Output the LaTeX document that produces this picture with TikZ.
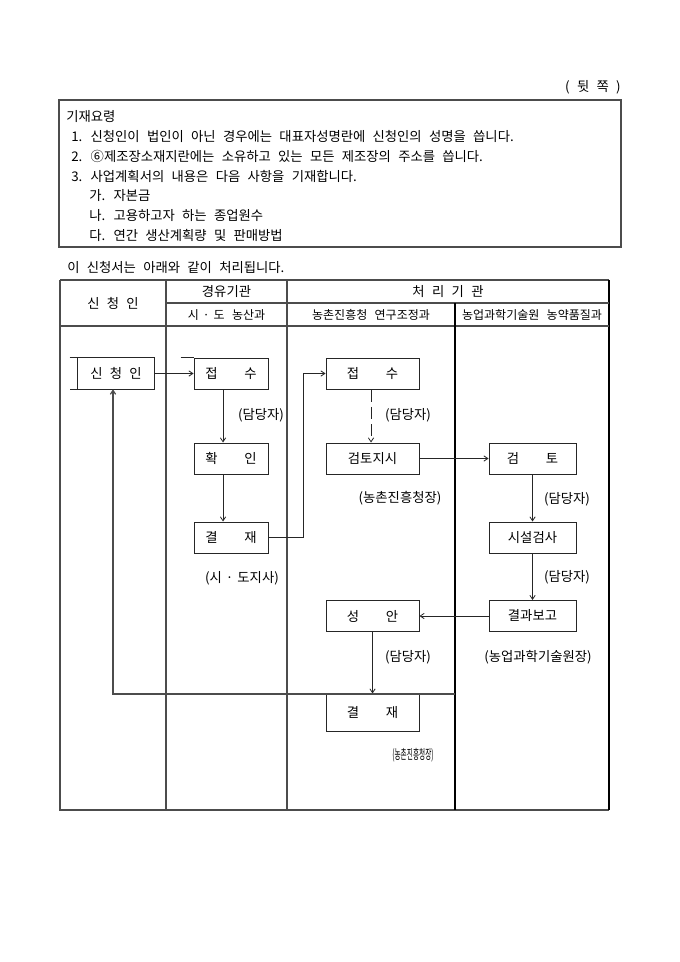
\documentclass[tikz,border=0pt]{standalone}
\usepackage{fontspec}
\usepackage{graphicx}
\setmainfont{Noto Sans CJK KR}
\usetikzlibrary{arrows.meta}
\newcommand\kfs{\fontsize{10pt}{12pt}\selectfont\spaceskip=5.5pt plus 0pt minus 0pt\relax}
\newcommand\kfsm{\fontsize{9pt}{11pt}\selectfont\spaceskip=5.5pt plus 0pt minus 0pt\relax}
\begin{document}
\begin{tikzpicture}[x=0.75pt,y=-0.75pt,
  every node/.style={font=\kfs, inner sep=0pt},
  hs/.style={font=\kfsm},
  tab/.style={draw=black!70, line width=0.9pt},
  tabk/.style={draw=black, line width=0.9pt},
  bx/.style={draw=black!85, line width=0.75pt, minimum height=23.25pt},
  bxA/.style={bx, minimum width=55.5pt},
  bxB/.style={bx, minimum width=69.75pt},
  bxC/.style={bx, minimum width=65.25pt},
  arr/.style={draw=black!85, line width=0.6pt, -{Straight Barb[length=3pt,width=4pt]}},
  cn/.style={draw=black!85, line width=0.6pt}
]
\useasboundingbox (0,0) rectangle (680,962);
\fill[white] (0,0) rectangle (680,962);

% top note
\node[anchor=east] (page) at (621,87) {( 뒷 쪽 )};
\draw[tab] (59,100) rectangle (621,247);
\node[anchor=west] (t0) at (66,117) {기재요령};
\node[anchor=west] (t1) at (71,136.7) {1. 신청인이 법인이 아닌 경우에는 대표자성명란에 신청인의 성명을 씁니다.};
\node[anchor=west] (t2) at (71,156.3) {2. ⑥제조장소재지란에는 소유하고 있는 모든 제조장의 주소를 씁니다.};
\node[anchor=west] (t3) at (71,176) {3. 사업계획서의 내용은 다음 사항을 기재합니다.};
\node[anchor=west] (t4) at (89,195.7) {가. 자본금};
\node[anchor=west] (t5) at (89,215.3) {나. 고용하고자 하는 종업원수};
\node[anchor=west] (t6) at (89,235) {다. 연간 생산계획량 및 판매방법};

\node[anchor=west] (intro) at (67,267) {이 신청서는 아래와 같이 처리됩니다.};

% table
\draw[tab] (60,280) -- (609,280);
\draw[tab] (60,280) -- (60,810) -- (609,810);
\draw[tabk] (609,280) -- (609,810);
\draw[tab] (166,303) -- (609,303);
\draw[tab] (60,326) -- (609,326);
\draw[tab] (166,280) -- (166,810);
\draw[tab] (287,280) -- (287,810);
\draw[tabk] (455,303) -- (455,810);

\node (h1) at (113,303) {신 청 인};
\node (h2) at (226.5,292) {경유기관};
\node[hs] (h3) at (226.5,315) {시\hspace{3pt}·\hspace{3pt}도 농산과};
\node (h4) at (448,292) {처 리 기 관};
\node[hs] (h5) at (371,315) {농촌진흥청 연구조정과};
\node[hs] (h6) at (532,315) {농업과학기술원 농약품질과};

% flow boxes
\node[minimum width=57pt, minimum height=23.25pt] (sin) at (116,373.5) {신 청 인};
\draw[cn] ([xshift=-6pt]sin.north west) -- (sin.north east) -- (sin.south east) -- ([xshift=-6pt]sin.south west);
\draw[cn] (sin.north west) -- (sin.south west);

\node[bxA] (js1) at (231,373.5) {접\hspace{20pt}수};
\draw[cn] ([xshift=-9.75pt]js1.north west) -- (js1.north west);
\node[bxA] (hw) at (231,458.5) {확\hspace{20pt}인};
\node[bxA] (gj1) at (231,537.5) {결\hspace{20pt}재};

\node[bxB] (js2) at (372.5,373.5) {접\hspace{20pt}수};
\node[bxB] (gtjs) at (372.5,458.5) {검토지시};
\node[bxB] (sa) at (372.5,616) {성\hspace{20pt}안};
\node[bxB, minimum height=27.75pt] (gj2) at (372.5,712.5) {결\hspace{20pt}재};

\node[bxC] (gt) at (532.5,458.5) {검\hspace{20pt}토};
\node[bxC] (ss) at (532.5,537.5) {시설검사};
\node[bxC] (gb) at (532.5,616) {결과보고};

% labels
\node (l1) at (261,415) {(담당자)};
\node (l2) at (242,578) {(시\hspace{3pt}·\hspace{3pt}도지사)};
\node (l3) at (408,415) {(담당자)};
\node (l4) at (400,498) {(농촌진흥청장)};
\node (l5) at (567,499) {(담당자)};
\node (l6) at (567,577) {(담당자)};
\node (l7) at (538,657) {(농업과학기술원장)};
\node (l8) at (408,657) {(담당자)};
\node (l9) at (413,755) {\scalebox{0.5}[1]{(농촌진흥청장)}};

% connectors
\coordinate (xa) at (223,0);
\coordinate (b1) at (303,0);
\coordinate (xd) at (371,0);
\coordinate (fbr) at (455,694);
\coordinate (fbl) at (113,694);

\draw[arr] (sin.east) -- (js1.west);
\draw[arr] (js1.south -| xa) -- (hw.north -| xa);
\draw[arr] (hw.south -| xa) -- (gj1.north -| xa);
\draw[arr] (gj1.east) -- (gj1.east -| b1) -- (js2.west -| b1) -- (js2.west);
\draw[arr, dash pattern=on 9pt off 4pt] (js2.south -| xd) -- (gtjs.north -| xd);
\draw[arr] (gtjs.east) -- (gt.west);
\draw[arr] (gt.south) -- (ss.north);
\draw[arr] (ss.south) -- (gb.north);
\draw[arr] (gb.west) -- (sa.east);
\draw[arr] (sa.south) -- (gj2.north);
\draw[arr, draw=black!70, line width=0.9pt] (fbr) -- (fbl) -- (sin.south -| fbl);
\end{tikzpicture}
\end{document}
